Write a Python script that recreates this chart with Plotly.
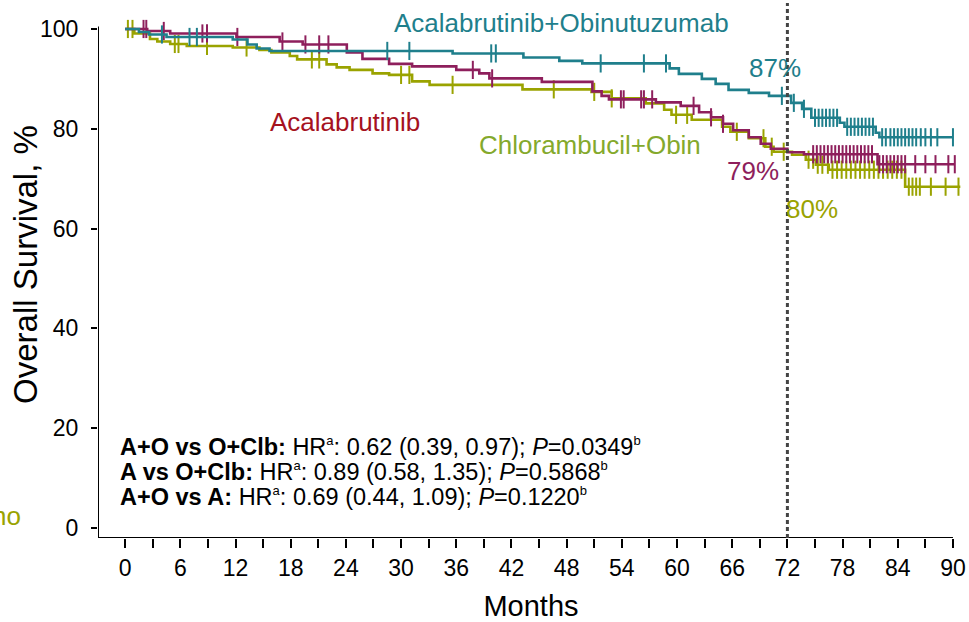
import numpy as np
import plotly.graph_objects as go

# ---- Kaplan-Meier step data (months, overall survival %) ----
ao_time = [0, 1.5, 2.6, 4.5, 11.7, 13.3, 14.3, 15.7, 35.6, 43.3, 47.2, 49.7, 59.2, 60.2,
           62.7, 64.2, 65.6, 67.8, 70.0, 72.4, 73.6, 74.6, 77.7, 78.2, 81.6, 82.0, 90.0]
ao_surv = [100, 99.4, 98.9, 98.4, 97.9, 96.9, 96.1, 95.6, 95.1, 94.3, 93.6, 93.1, 92.1, 91.0,
           90.0, 89.0, 87.8, 87.2, 86.6, 85.2, 84.0, 82.2, 81.2, 80.4, 79.2, 78.3, 78.3]
ao_cens = [4.0, 7.0, 7.8, 28.5, 30.9, 39.8, 40.3, 51.7, 56.4, 58.8, 71.4, 72.7, 73.8,
           75.0, 75.4, 75.8, 76.2, 76.6, 77.0, 77.4, 78.5, 78.9, 79.3, 79.7, 80.1, 80.5,
           80.9, 81.3, 82.3, 82.7, 83.2, 83.6, 84.0, 84.4, 84.8, 85.2, 85.6, 86.0, 86.5,
           87.0, 87.6, 88.3, 90.0]

a_time = [0, 2.4, 4.9, 12.1, 16.8, 19.3, 24.1, 25.8, 28.7, 31.2, 36.0, 38.5, 39.6, 45.3,
          50.8, 51.8, 52.6, 57.7, 60.4, 62.4, 63.7, 65.0, 66.1, 67.8, 69.1, 70.2, 72.0,
          73.8, 81.8, 90.2]
a_surv = [100, 99.6, 99.1, 98.4, 97.5, 96.9, 95.3, 94.0, 93.0, 92.5, 91.8, 91.1, 90.1, 89.4,
          87.5, 86.6, 85.9, 85.3, 84.6, 83.3, 82.3, 81.0, 79.7, 78.3, 77.0, 76.0, 75.3,
          74.9, 72.9, 72.9]
a_cens = [2.0, 2.3, 4.2, 8.4, 8.9, 12.2, 17.1, 19.6, 21.1, 22.1, 37.8, 39.9, 53.9, 54.2,
          56.1, 56.4, 57.3, 61.8, 63.7, 65.0, 74.8, 75.2, 75.6, 76.0, 76.4, 76.8, 77.2,
          77.6, 78.0, 78.4, 78.8, 79.2, 79.6, 80.0, 80.4, 80.8, 81.2, 82.0, 82.4, 82.8,
          83.2, 83.6, 84.0, 84.4, 84.8, 85.9, 87.0, 88.1, 89.5, 90.2]

oc_time = [0, 1.0, 2.7, 3.5, 4.9, 6.7, 11.7, 14.6, 15.9, 17.9, 18.7, 21.9, 23.0, 24.4,
           26.9, 28.7, 31.2, 33.1, 43.2, 50.7, 52.9, 56.6, 58.6, 59.4, 61.6, 64.9, 65.8,
           67.8, 69.6, 70.5, 72.5, 74.0, 75.1, 76.5, 84.8, 90.8]
oc_surv = [100, 99.1, 98.0, 97.5, 97.0, 96.6, 96.3, 95.8, 95.3, 94.6, 93.9, 92.9, 92.3, 91.8,
           91.1, 90.8, 89.5, 88.8, 87.9, 87.4, 86.1, 85.1, 83.8, 82.8, 81.8, 80.4, 79.4,
           78.1, 76.4, 75.4, 74.8, 73.8, 72.8, 71.8, 68.4, 68.4]
oc_cens = [0.3, 0.8, 5.4, 5.8, 8.9, 13.2, 20.3, 21.1, 30.0, 30.9, 35.6, 46.6, 51.0, 52.9,
           59.9, 61.1, 66.5, 69.4, 70.3, 71.6, 74.3, 74.8, 75.3, 75.8, 76.4, 76.9, 77.4,
           77.9, 78.4, 78.9, 79.4, 79.9, 80.4, 80.9, 81.4, 81.9, 82.4, 82.9, 83.4, 83.9,
           84.4, 85.2, 85.6, 86.0, 86.4, 87.6, 89.2, 90.6]

x_major = list(range(0, 91, 6))
x_minor = list(range(3, 90, 6))
y_ticks = [0, 20, 40, 60, 80, 100]

TEAL = "#1f7f8c"
MAGENTA = "#8e1f5c"
OLIVE = "#9aa300"
FONT = "Liberation Sans, Arial, sans-serif"

X0, X1 = -2.95, 91.2
Y0, Y1 = -2, 102


def step_value(times, survs, t):
    idx = np.searchsorted(np.asarray(times), t, side="right") - 1
    return np.asarray(survs)[idx]


fig = go.Figure()
for times, survs, cens, color, name in [
    (oc_time, oc_surv, oc_cens, OLIVE, "Chlorambucil+Obin"),
    (a_time, a_surv, a_cens, MAGENTA, "Acalabrutinib"),
    (ao_time, ao_surv, ao_cens, TEAL, "Acalabrutinib+Obinutuzumab"),
]:
    fig.add_trace(go.Scatter(x=times, y=survs, mode="lines", line_shape="hv",
                             line=dict(color=color, width=2.6), name=name,
                             showlegend=False, hoverinfo="skip"))
    fig.add_trace(go.Scatter(x=cens, y=[step_value(times, survs, t) for t in cens],
                             mode="markers", cliponaxis=False,
                             marker=dict(symbol="line-ns", size=13,
                                         line=dict(color=color, width=2)),
                             showlegend=False, hoverinfo="skip"))

# axis lines
fig.add_shape(type="line", xref="x", yref="y", x0=X0, x1=90, y0=Y0, y1=Y0,
              line=dict(color="black", width=2))
fig.add_shape(type="line", xref="x", yref="y", x0=X0, x1=X0, y0=Y0, y1=100.5,
              line=dict(color="black", width=2))
# 72-month landmark
fig.add_shape(type="line", xref="x", yref="paper", x0=72, x1=72, y0=0, y1=1.031,
              line=dict(color="#444444", width=3, dash="4px,3px"))

labels = [
    ("Acalabrutinib+Obinutuzumab", 29.0, 101.2, "left", TEAL),
    ("87%", 70.7, 92.2, "center", TEAL),
    ("Acalabrutinib", 15.5, 81.4, "left", "#a5121e"),
    ("Chlorambucil+Obin", 38.3, 76.8, "left", "#84a92c"),
    ("79%", 71.3, 71.6, "right", MAGENTA),
    ("80%", 74.7, 64.0, "center", OLIVE),
]
for text, x, y, anchor, color in labels:
    fig.add_annotation(x=x, y=y, xref="x", yref="y", text=text, showarrow=False,
                       xanchor=anchor, yanchor="middle",
                       font=dict(family=FONT, size=26, color=color))

# clipped remnant of a label at the left edge
fig.add_annotation(x=-0.087, y=0.043, xref="paper", yref="paper", text="ho",
                   showarrow=False, xanchor="right", yanchor="middle",
                   font=dict(family=FONT, size=26, color=OLIVE))

# y-axis title
fig.add_annotation(x=-0.0832, y=0.528, xref="paper", yref="paper",
                   text="Overall Survival, %", textangle=-90, showarrow=False,
                   xanchor="center", yanchor="middle",
                   font=dict(family=FONT, size=33, color="black"))

SUP = "<sup><span style='font-size:13px'>{}</span></sup>"
hr_lines = [
    "<b>A+O vs O+Clb:</b> HR" + SUP.format("a") + ": 0.62 (0.39, 0.97); <i>P</i>=0.0349" + SUP.format("b"),
    "<b>A vs O+Clb:</b> HR" + SUP.format("a") + ": 0.89 (0.58, 1.35); <i>P</i>=0.5868" + SUP.format("b"),
    "<b>A+O vs A:</b> HR" + SUP.format("a") + ": 0.69 (0.44, 1.09); <i>P</i>=0.1220" + SUP.format("b"),
]
for i, t in enumerate(hr_lines):
    fig.add_annotation(x=-0.76, y=16.3 - 5.0 * i, xref="x", yref="y", text=t,
                       showarrow=False, xanchor="left", yanchor="middle",
                       font=dict(family=FONT, size=23.5, color="black"))

fig.update_layout(
    width=969, height=622,
    margin=dict(l=97.8, r=3.2, t=19, b=83.5),
    paper_bgcolor="white", plot_bgcolor="white",
    font=dict(family=FONT, color="black"),
    xaxis=dict(range=[X0, X1], tickvals=x_major,
               ticks="outside", ticklen=9, tickwidth=2, tickcolor="black",
               minor=dict(tickvals=x_minor, ticks="outside", ticklen=9,
                          tickwidth=2, tickcolor="black", showgrid=False),
               showline=False, showgrid=False, zeroline=False,
               tickfont=dict(size=23), ticklabelstandoff=0,
               title=dict(text="Months", font=dict(size=29), standoff=17)),
    yaxis=dict(range=[Y0, Y1], tickvals=y_ticks, ticks="outside", ticklen=6,
               tickwidth=2, tickcolor="black", showline=False, showgrid=False,
               zeroline=False, tickfont=dict(size=23), ticklabelstandoff=8),
)

fig.write_html("out.html")
